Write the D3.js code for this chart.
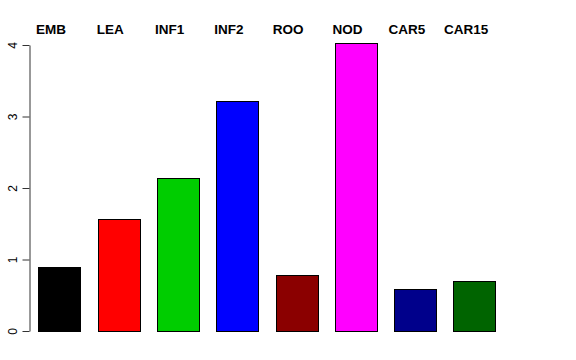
<!DOCTYPE html>
<html>
<head>
<style>
body { margin: 0; background: #fff; }
.lab { font: bold 13.5px "Liberation Sans", Arial, sans-serif; }
.tick text { font: 12px "Liberation Sans", Arial, sans-serif; }
</style>
</head>
<script src="https://d3js.org/d3.v7.min.js"></script>
<body>
<div id="chart"></div>
<script>
var categories = ["EMB", "LEA", "INF1", "INF2", "ROO", "NOD", "CAR5", "CAR15"];
var values = [0.90, 1.56, 2.14, 3.21, 0.78, 4.03, 0.59, 0.70];
var colors = ["#000000", "#ff0000", "#00cd00", "#0000ff", "#8b0000", "#ff00ff", "#00008b", "#006400"];
var yTicks = [0, 1, 2, 3, 4];

var width = 576, height = 360;

var svg = d3.select("#chart").append("svg")
  .attr("width", width)
  .attr("height", height);

var x = d3.scaleBand().domain(categories).range([38.3, 495.8])
  .paddingInner(0.4 / 1.4).paddingOuter(0);
var y = d3.scaleLinear().domain([0, 4]).range([331, 45]);

// bars
svg.selectAll(".bar")
  .data(categories)
  .enter().append("rect")
  .attr("class", "bar")
  .attr("x", d => Math.round(x(d)) + 0.5)
  .attr("y", (d, i) => Math.round(y(values[i])) + 0.5)
  .attr("width", Math.round(x.bandwidth()))
  .attr("height", (d, i) => Math.round(y(0)) - Math.round(y(values[i])))
  .style("fill", (d, i) => colors[i])
  .style("stroke", "#000")
  .style("stroke-width", 1);

// y axis, R style with rotated labels
var yAxis = d3.axisLeft(y).tickValues(yTicks).tickFormat(d3.format("d"))
  .tickSize(7).tickSizeOuter(0).tickPadding(4);
var ax = svg.append("g")
  .attr("transform", "translate(29.5,0)")
  .call(yAxis);
ax.select(".domain").attr("stroke", "#333");
ax.selectAll(".tick line").attr("stroke", "#333");
ax.selectAll(".tick text")
  .attr("fill", "#000")
  .attr("x", 0).attr("dy", null)
  .attr("text-anchor", "middle")
  .attr("transform", "translate(-13,0) rotate(-90)");

// labels on top
svg.selectAll(".lab")
  .data(categories)
  .enter().append("text")
  .attr("class", "lab")
  .attr("x", d => x(d) + x.bandwidth() / 2 - 8.5)
  .attr("y", 34)
  .attr("text-anchor", "middle")
  .text(d => d);
</script>
</body>
</html>
